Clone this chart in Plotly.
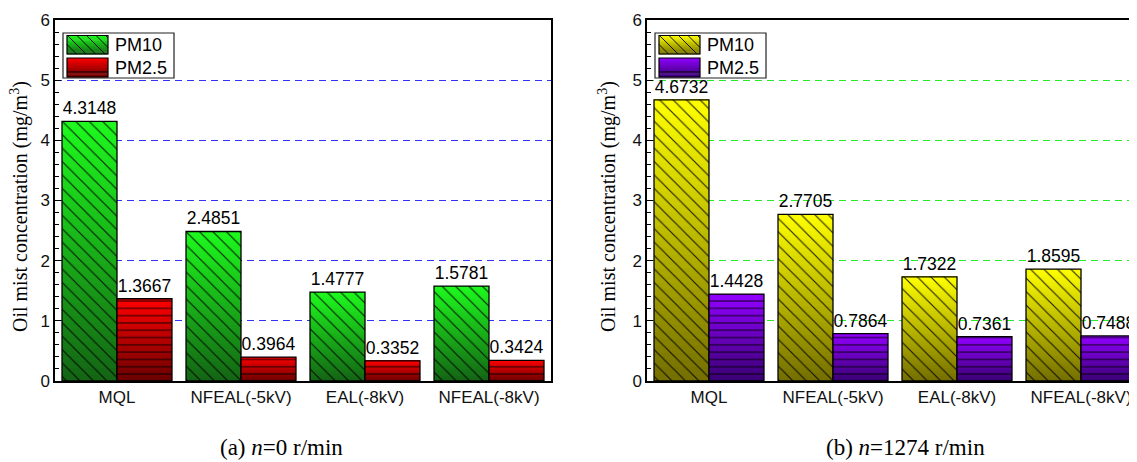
import plotly.graph_objects as go

# ---------------- data ----------------
categories = ["MQL", "NFEAL(-5kV)", "EAL(-8kV)", "NFEAL(-8kV)"]
series_names = ["PM10", "PM2.5"]
pm10_a = [4.3148, 2.4851, 1.4777, 1.5781]
pm25_a = [1.3667, 0.3964, 0.3352, 0.3424]
pm10_b = [4.6732, 2.7705, 1.7322, 1.8595]
pm25_b = [1.4428, 0.7864, 0.7361, 0.7488]
y_ticks = [0, 1, 2, 3, 4, 5, 6]
captions = ["(a) <i>n</i>=0 r/min", "(b) <i>n</i>=1274 r/min"]
y_title = "Oil mist concentration (mg/m<sup>3</sup>)"

# ---------------- styling ----------------
W, H = 1137, 462
OFF = 8  # page body margin in the browser
SANS = "Liberation Sans, Arial, sans-serif"
SERIF = "Liberation Serif, Times New Roman, serif"
K = 40  # gradient steps

green_bot, green_top = (20, 100, 20), (30, 250, 30)
red_bot, red_top = (105, 0, 0), (255, 0, 0)
yel_bot, yel_top = (115, 110, 0), (255, 255, 0)
vio_bot, vio_top = (58, 0, 115), (145, 0, 255)


def px(x):
    return (x - OFF) / W


def py(y):
    return 1 - (y - OFF) / H


def lerp(c0, c1, f):
    return "rgb(%d,%d,%d)" % tuple(round(a + (b - a) * f) for a, b in zip(c0, c1))


fig = go.Figure()


def add_series(vals, xa, ya, group, cbot, ctop, shape, psize, sol):
    for i in range(K):
        f = (i + 0.5) / K
        fig.add_bar(
            x=categories, y=[v * (1 - i / K) for v in vals], base=[v * i / K for v in vals],
            xaxis=xa, yaxis=ya, offsetgroup=group,
            marker=dict(color=lerp(cbot, ctop, f), line=dict(width=0)),
            showlegend=False, hoverinfo="skip",
        )
    fig.add_bar(
        x=categories, y=vals, base=[0] * len(vals), xaxis=xa, yaxis=ya, offsetgroup=group,
        marker=dict(color="rgba(0,0,0,0)", line=dict(color="black", width=1.3),
                    pattern=dict(shape=shape, size=psize, solidity=sol, fgcolor="black",
                                 fgopacity=0.85)),
        text=[f"{v:.4f}" for v in vals], textposition="outside", constraintext="none",
        textfont=dict(family=SANS, size=17.5, color="black"), cliponaxis=False,
        showlegend=False,
    )


add_series(pm10_a, "x", "y", "a10", green_bot, green_top, "\\", 9.5, 0.12)
add_series(pm25_a, "x", "y", "a25", red_bot, red_top, "-", 7.3, 0.14)
add_series(pm10_b, "x2", "y2", "b10", yel_bot, yel_top, "\\", 9.5, 0.12)
add_series(pm25_b, "x2", "y2", "b25", vio_bot, vio_top, "-", 7.3, 0.14)

# ---------------- axes ----------------
ydom = [py(381), py(20)]
common_x = dict(type="category", showline=True, linecolor="black", linewidth=1.5, ticks="",
                showgrid=False, zeroline=False, automargin=False,
                tickfont=dict(family=SANS, size=17, color="#111"))
common_y = dict(range=[0, 6], tickvals=y_ticks, ticks="inside", ticklen=6, tickwidth=1.2,
                tickcolor="black", showline=True, linecolor="black", linewidth=1.5,
                zeroline=False, showgrid=True, gridwidth=1.4, griddash="7px,5px",
                automargin=False,
                minor=dict(dtick=0.2, tick0=0, ticks="inside", ticklen=4, tickwidth=1,
                           tickcolor="black", showgrid=False),
                tickfont=dict(family=SANS, size=17, color="#111"), domain=ydom)

fig.update_layout(
    template="none",
    width=W, height=H, margin=dict(l=0, r=0, t=0, b=0, pad=0),
    plot_bgcolor="white", paper_bgcolor="white",
    barmode="group", bargap=0.113, bargroupgap=0, showlegend=False,
    xaxis=dict(domain=[px(55), px(551)], range=[-0.5, 3.5], mirror=True, anchor="y", **common_x),
    yaxis=dict(anchor="x", mirror=True, **common_y),
    xaxis2=dict(domain=[px(647), px(1143)], range=[-0.5, 3.5], mirror=True,
                anchor="y2", **common_x),
    yaxis2=dict(anchor="x2", mirror=False, **common_y),
)
fig.update_yaxes(gridcolor="rgb(50,50,255)", selector=dict(anchor="x"))
fig.update_yaxes(gridcolor="rgb(40,235,40)", selector=dict(anchor="x2"))

# ---------------- annotations ----------------
ann = []
for xc, cap in zip([281, 905], captions):
    ann.append(dict(x=px(xc), y=py(447), xref="paper", yref="paper", text=cap, showarrow=False,
                    xanchor="center", yanchor="middle", font=dict(family=SERIF, size=23, color="black")))
for xc in [19, 607]:
    ann.append(dict(x=px(xc), y=py(207), xref="paper", yref="paper", text=y_title, showarrow=False,
                    textangle=-90, xanchor="center", yanchor="middle",
                    font=dict(family=SERIF, size=20, color="black")))

# ---------------- custom legends ----------------
shapes = []


def rect(x0, y0, x1, y1, fill, lc=None, lw=0):
    shapes.append(dict(type="rect", xref="paper", yref="paper", x0=px(x0), x1=px(x1),
                       y0=py(y1), y1=py(y0), fillcolor=fill,
                       line=dict(color=lc or "rgba(0,0,0,0)", width=lw), layer="above"))


def line(x0, y0, x1, y1, w=1, c="black"):
    shapes.append(dict(type="line", xref="paper", yref="paper", x0=px(x0), x1=px(x1),
                       y0=py(y0), y1=py(y1), line=dict(color=c, width=w), layer="above"))


def swatch(x0, y0, x1, y1, cbot, ctop, kind):
    n = 20
    hgt = (y1 - y0) / n
    for i in range(n):
        f = 1 - (i + 0.5) / n
        rect(x0, y0 + i * hgt, x1, y0 + (i + 1) * hgt + 0.6, lerp(cbot, ctop, f))
    if kind == "hatch":
        c = x0 - y1
        while c < x1 - y0:
            ya = max(y0, x0 - c)
            yb = min(y1, x1 - c)
            if yb > ya:
                line(ya + c, ya, yb + c, yb, w=0.9)
            c += 9.5
    else:
        line(x0, y0 + 14, x1, y0 + 14, w=1)
    rect(x0, y0, x1, y1, "rgba(0,0,0,0)", "black", 1.2)


def legend(x0, y0, c10, c25):
    rect(x0, y0, x0 + 111, y0 + 45, "white", "#222", 1.2)
    swatch(x0 + 4, y0 + 2.5, x0 + 45, y0 + 21, c10[0], c10[1], "hatch")
    swatch(x0 + 4, y0 + 25, x0 + 45, y0 + 44, c25[0], c25[1], "lines")
    for name, yc in zip(series_names, [y0 + 12, y0 + 35]):
        ann.append(dict(x=px(x0 + 50), y=py(yc), xref="paper", yref="paper", text=name,
                        showarrow=False, xanchor="left", yanchor="middle",
                        font=dict(family=SANS, size=18, color="black")))


legend(63, 33, (green_bot, green_top), (red_bot, red_top))
legend(655, 33, (yel_bot, yel_top), (vio_bot, vio_top))

fig.update_layout(annotations=ann, shapes=shapes)
fig.write_html("out.html")
